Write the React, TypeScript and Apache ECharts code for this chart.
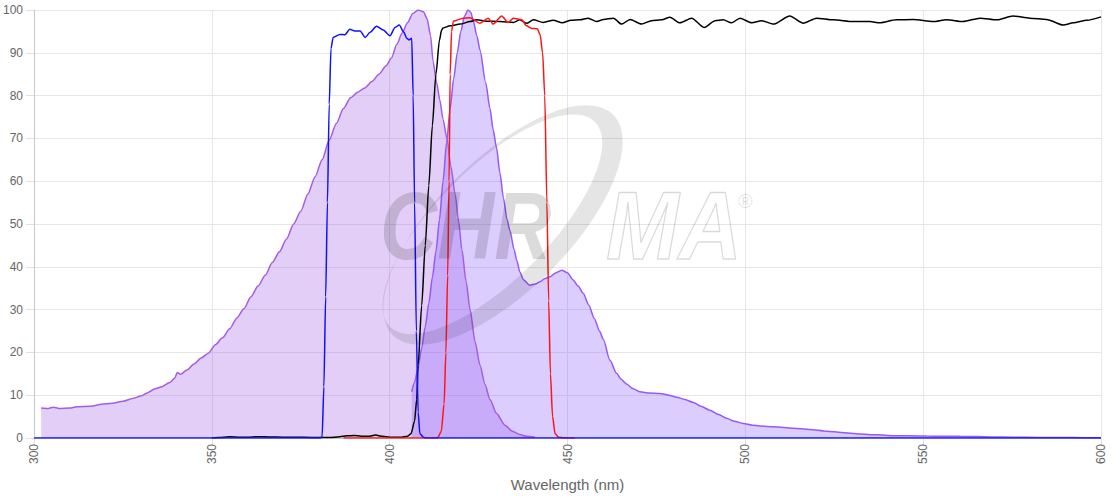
import React, { useEffect, useRef } from "react";
import * as echarts from "echarts";

// Excitation spectrum (nm, %)
const excitation: [number, number][] = [
  [302, 7], [304, 6.9], [305.5, 7.2], [307, 6.9], [310, 7], [312, 7.3], [316, 7.4], [319, 7.9],
  [322, 8.1], [325, 8.6], [328, 9.3], [330, 9.8], [332, 10.6], [334, 11.5], [336, 12], [338, 12.9],
  [339.5, 13.9], [340.3, 15.3], [341.2, 14.9], [343, 15.9], [345, 17.3], [347, 18.7], [349, 19.8],
  [351, 21.8], [353, 23.4], [355, 25.5], [357, 28], [359, 30.2], [361, 33], [363, 35.5], [365, 38],
  [367, 41], [369, 43.5], [371, 46.5], [373, 50], [375, 53], [377, 57], [379, 61], [381, 65],
  [383, 69.6], [385, 73.5], [387, 77], [389, 79.5], [391, 80.8], [393, 81.8], [395, 83.3], [397, 85],
  [399, 87], [400.5, 88.8], [402, 92], [403.5, 94.6], [405, 97], [406.5, 99.2], [408, 100],
  [409.5, 99.6], [410.5, 98], [411.5, 94], [412.2, 88], [413.2, 83], [414.1, 79], [415, 74.5],
  [416.1, 70], [417.2, 63.5], [418.4, 57], [419.4, 50.5], [420.3, 44], [421.5, 36.5], [422.6, 30],
  [424, 22.5], [425.4, 17], [426.8, 12.5], [428.2, 9], [430, 5.8], [432.4, 3], [434.5, 1.6],
  [436.6, 0.8], [438.5, 0.4], [440.8, 0.2],
];

// Emission spectrum (nm, %)
const emission: [number, number][] = [
  [406.2, 10.8], [407, 13], [408, 16.5], [409, 21], [410, 26], [411, 31.5], [412, 37.5], [413, 43.5],
  [414, 51], [415, 60], [416, 69], [417, 77], [418, 84], [419, 90], [420, 95], [421, 98.5], [422, 100],
  [422.8, 99.5], [423.5, 97.5], [424.5, 94], [425.4, 90.6], [427, 83], [428.2, 77], [429.1, 72],
  [430, 68], [431, 62], [432, 56], [433, 51], [433.8, 48.5], [435, 44], [435.7, 41.6], [436.6, 38.8],
  [437.6, 37], [439.4, 35.7], [441, 36], [442.3, 36.5], [443.5, 37.2], [445.1, 37.7], [446.5, 38.5],
  [448.4, 39.2], [450, 38.6], [451.5, 37], [453, 35.5], [454.4, 33.8], [456, 31], [457.5, 28],
  [459, 25], [460.1, 23], [461.9, 18.2], [463.8, 15.1], [465, 13.8], [466.6, 12.6], [468.5, 11.5],
  [470.4, 10.8], [473, 10.5], [476, 10.4], [478.5, 10], [480.7, 9.5], [483, 9], [485.4, 8.3],
  [487.5, 7.4], [490, 6.5], [492.5, 5.5], [494.7, 4.6], [497, 3.9], [499.4, 3.4], [502, 3],
  [504.1, 2.8], [508, 2.6], [513.5, 2.3], [518, 2], [522.9, 1.6], [527, 1.3], [532.2, 0.93],
  [537, 0.75], [541.6, 0.55], [546, 0.5], [551, 0.45], [555, 0.42], [560.3, 0.4], [565, 0.35],
  [569.7, 0.25], [575, 0.2], [579, 0.15], [585, 0.12], [590, 0.1], [595, 0.08], [600, 0.05],
];

// Excitation filter (blue)
const exFilter: [number, number][] = [
  [300, 0], [378, 0], [380.5, 0], [381, 0.3], [381.5, 12], [382, 33], [382.5, 55], [383, 78],
  [383.5, 91], [384.1, 93.6], [386, 94.3], [387.4, 94.2], [388.8, 95.5], [390.2, 95.1],
  [391.7, 95.1], [393.1, 93.6], [394.5, 94.8], [396.3, 96.2], [398.2, 95.3], [400.1, 94],
  [401.5, 95.9], [402.7, 96.5], [403.9, 94.9], [404.8, 93.4], [405.4, 93], [406.2, 93.4],
  [406.6, 80], [407, 55], [407.5, 25], [408, 6], [408.5, 1], [409.5, 0.15], [410, 0], [412, 0],
  [600, 0],
];

// Dichroic mirror (black)
const dichroic: [number, number][] = [
  [350, 0], [352, 0.1], [355, 0.3], [358, 0.2], [360, 0.2], [363, 0.3], [366, 0.25], [370, 0.2],
  [373, 0.2], [376, 0.15], [380, 0.1], [383, 0.1], [386, 0.3], [388, 0.5], [390, 0.6], [392, 0.4],
  [394, 0.4], [396, 0.7], [398, 0.4], [400, 0.2], [403, 0.15], [405, 0.4], [406, 1], [407, 4],
  [407.6, 9], [408, 17], [409, 31], [410, 45], [411, 59], [412, 73], [413, 85], [414, 93],
  [414.6, 95.3], [415, 95.8], [417, 96.3], [419.8, 96.7], [422.6, 97.3], [424.5, 97.7],
  [427.3, 97.4], [431, 97.3], [434.8, 97.1], [436.6, 97.7], [438.5, 96.9], [440.4, 97.7],
  [443.2, 97.1], [446, 97.6], [448.5, 97], [451, 97.6], [453.5, 97.7], [455.8, 98.1], [458.2, 97.3],
  [460.1, 97.8], [462.9, 98.1], [465.2, 96.7], [467.6, 97.8], [470.8, 96.7], [473.6, 97.5],
  [476.5, 97.7], [478.8, 98.3], [481.6, 97], [484.9, 98.1], [488.4, 95.9], [491.5, 97.5],
  [493.8, 97.7], [496.1, 97], [498.5, 98.1], [501.8, 97], [504.6, 97.5], [507.9, 96.7],
  [512.5, 98.6], [516.3, 96.9], [520, 98.1], [524.7, 97.7], [530.3, 97.3], [535, 97.3],
  [537.8, 97], [542.5, 97.7], [547.2, 97.8], [552.8, 97.3], [556.6, 97.7], [561.2, 97.3],
  [566, 98.1], [570.7, 97.7], [575.3, 98.6], [580, 98.1], [584.7, 97.8], [589.4, 96.5],
  [592.2, 97], [596, 97.6], [600, 98.4],
];

// Emission filter (red)
const emFilter: [number, number][] = [
  [387, 0], [400, 0], [410, 0], [413, 0], [413.5, 0.1], [414.5, 1.5], [415.3, 8], [415.8, 20],
  [416.3, 38], [416.7, 60], [417, 85], [417.4, 95], [417.9, 97.4], [420.7, 98.1], [422.6, 98.2],
  [425.4, 96.9], [427.7, 98.1], [429.1, 96.7], [431.5, 98.6], [433.3, 97.1], [434.8, 98.1],
  [437.1, 97.7], [438.5, 96.3], [439.9, 95.7], [441.5, 95.6], [442.3, 94.2], [443, 90],
  [443.6, 80], [444.2, 55], [444.7, 32], [445.2, 15], [445.8, 5], [446.5, 1], [447.5, 0.2],
  [449, 0], [452, 0],
];

const AXIS_NAME = "Wavelength (nm)";
const FONT = "'Liberation Sans', Arial, Helvetica, sans-serif";

export default function App() {
  const ref = useRef<HTMLDivElement>(null);
  useEffect(() => {
    if (!ref.current) return;
    const ringPath =
      "M -156 0 A 156 66 0 1 1 156 0 A 156 66 0 1 1 -156 0 Z " +
      "M -152 -8 A 145 56 0 1 0 138 -8 A 145 56 0 1 0 -152 -8 Z";
    try {
      echarts.graphic.registerShape("chromaRing", echarts.graphic.extendPath(ringPath, {}) as any);
    } catch (e) {
      /* ignore */
    }
    const chart = echarts.init(ref.current, undefined, { renderer: "svg" });

    const lineSeries = (name: string, data: [number, number][], color: string, width: number, area?: string) => ({
      name,
      type: "line",
      data,
      showSymbol: false,
      symbol: "none",
      smooth: 0.25,
      smoothMonotone: "x",
      lineStyle: { color, width },
      itemStyle: { color },
      areaStyle: area ? { color: area, origin: "start", opacity: 1 } : undefined,
      silent: true,
    });

    chart.setOption({
      animation: false,
      textStyle: { fontFamily: FONT },
      grid: { left: 34, right: 19, top: 10, bottom: 62 },
      xAxis: {
        type: "value",
        min: 300,
        max: 600,
        interval: 50,
        name: AXIS_NAME,
        nameLocation: "middle",
        nameGap: 39,
        nameTextStyle: { color: "#666", fontSize: 15, fontFamily: FONT },
        axisLine: { show: true, lineStyle: { color: "#c8c8c8", width: 1 } },
        axisTick: { show: true, length: 8, lineStyle: { color: "#e0e0e0" } },
        axisLabel: { rotate: 90, color: "#666", fontSize: 12, margin: 6, fontFamily: FONT },
        splitLine: { show: true, lineStyle: { color: "#e6e6e6" } },
      },
      yAxis: {
        type: "value",
        min: 0,
        max: 100,
        interval: 10,
        axisLine: { show: true, lineStyle: { color: "#c8c8c8", width: 1 } },
        axisTick: { show: true, length: 8, lineStyle: { color: "#e0e0e0" } },
        axisLabel: { color: "#666", fontSize: 12, margin: 11, fontFamily: FONT },
        splitLine: { show: true, lineStyle: { color: "#e6e6e6" } },
      },
      series: [
        lineSeries("Excitation", excitation, "#a35de2", 1.5, "rgba(160, 92, 224, 0.3)"),
        lineSeries("Emission", emission, "#9659f5", 1.5, "rgba(140, 90, 255, 0.3)"),
        lineSeries("Dichroic", dichroic, "#000000", 1.5),
        lineSeries("Emission filter", emFilter, "#ff1414", 1.5),
        lineSeries("Excitation filter", exFilter, "#1010ff", 1.5),
      ],
      graphic: [
        {
          type: "chromaRing",
          x: 503,
          y: 225,
          rotation: Math.PI / 4,
          silent: true,
          z: 100,
          style: { fill: "rgba(0,0,0,0.1)" },
        },
        {
          type: "text",
          x: 380,
          y: 226,
          scaleX: 0.86,
          scaleY: 1.05,
          silent: true,
          z: 100,
          style: {
            text: "CHR",
            font: "italic bold 92px 'Liberation Sans', Arial, sans-serif",
            fill: "rgba(0,0,0,0.14)",
            verticalAlign: "middle",
            textVerticalAlign: "middle",
          },
        },
        {
          type: "text",
          x: 606,
          y: 226,
          scaleX: 0.95,
          scaleY: 1.05,
          silent: true,
          z: 100,
          style: {
            text: "MA",
            font: "italic bold 92px 'Liberation Sans', Arial, sans-serif",
            fill: "rgba(0,0,0,0)",
            stroke: "rgba(0,0,0,0.15)",
            lineWidth: 1.3,
            verticalAlign: "middle",
            textVerticalAlign: "middle",
          },
        },
        {
          type: "text",
          x: 738,
          y: 201,
          silent: true,
          z: 100,
          style: {
            text: "®",
            font: "20px 'Liberation Sans', Arial, sans-serif",
            fill: "rgba(0,0,0,0.12)",
            verticalAlign: "middle",
            textVerticalAlign: "middle",
          },
        },
      ],
    });
    return () => chart.dispose();
  }, []);
  return (
    <div
      ref={ref}
      style={{ position: "fixed", left: 0, top: 0, width: 1120, height: 500, background: "#fff" }}
    />
  );
}
